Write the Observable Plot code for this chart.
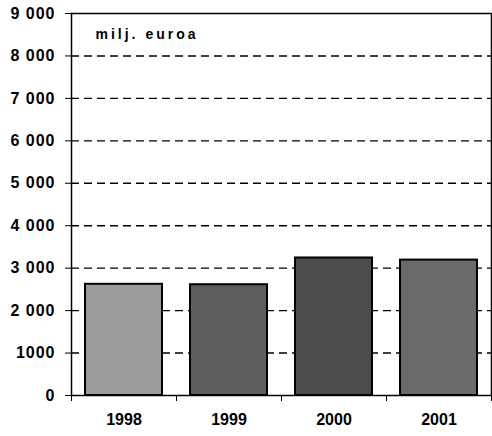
<!DOCTYPE html>
<html>
<head>
<meta charset="utf-8">
<script src="https://cdn.jsdelivr.net/npm/d3@7"></script>
<script src="https://cdn.jsdelivr.net/npm/@observablehq/plot@0.6"></script>
<style>
  html, body { margin: 0; padding: 0; background: white; }
</style>
</head>
<body>
<div id="chart"></div>
<script>
const years = [1998, 1999, 2000, 2001];
const values = [2620, 2610, 3240, 3190];
const barFills = ["#9c9c9c", "#5e5e5e", "#4c4c4c", "#6a6a6a"];
const yTicks = [0, 1000, 2000, 3000, 4000, 5000, 6000, 7000, 8000, 9000];
const yTickLabels = ["0", "1000", "2 000", "3 000", "4 000", "5 000", "6 000", "7 000", "8 000", "9 000"];
const gridValues = [1000, 2000, 3000, 4000, 5000, 6000, 7000, 8000];
const xTickLabels = ["1998", "1999", "2000", "2001"];
const boundaries = [1997.5, 1998.5, 1999.5, 2000.5, 2001.5];
const unitLabel = "milj. euroa";

const data = years.map((y, i) => ({year: y, value: values[i], fill: barFills[i]}));

const chart = Plot.plot({
  width: 492,
  height: 436,
  marginLeft: 71,
  marginRight: 1,
  marginTop: 13,
  marginBottom: 41,
  x: {type: "linear", domain: [1997.5, 2001.5]},
  y: {domain: [0, 9000]},
  color: {type: "identity"},
  style: {fontFamily: "'Liberation Sans', Arial, sans-serif", fontWeight: "bold", fontSize: "16px", color: "black", background: "white"},
  marks: [
    Plot.ruleY(gridValues, {stroke: "black", strokeWidth: 1.4, strokeDasharray: "8,5"}),
    Plot.rectY(data, {x1: d => d.year - 0.5, x2: d => d.year + 0.5, y1: 0, y2: "value", fill: "fill", stroke: "black", strokeWidth: 2, insetLeft: 14, insetRight: 14}),
    Plot.frame({stroke: "black", strokeWidth: 1.5}),
    Plot.axisY(yTicks, {tickSize: 6, tickPadding: 10, tickFormat: (d, i) => yTickLabels[i], fontSize: 16, fontWeight: "bold", label: null, className: "y-labels"}),
    Plot.axisX(years, {tickSize: 0, tickPadding: 18, tickFormat: (d, i) => xTickLabels[i], fontSize: 16, fontWeight: "bold", label: null}),
    Plot.axisX(boundaries, {tickSize: 6, tickFormat: () => "", label: null}),
    Plot.text([unitLabel], {frameAnchor: "top-left", dx: 24, dy: 16, lineAnchor: "top", textAnchor: "start", fontSize: 14, fontWeight: "bold", className: "unit-label"})
  ]
});

d3.select(chart).selectAll(".unit-label text").attr("letter-spacing", "3px");
d3.select(chart).selectAll(".y-labels text").attr("letter-spacing", "1px");
document.getElementById("chart").appendChild(chart);
</script>
</body>
</html>
